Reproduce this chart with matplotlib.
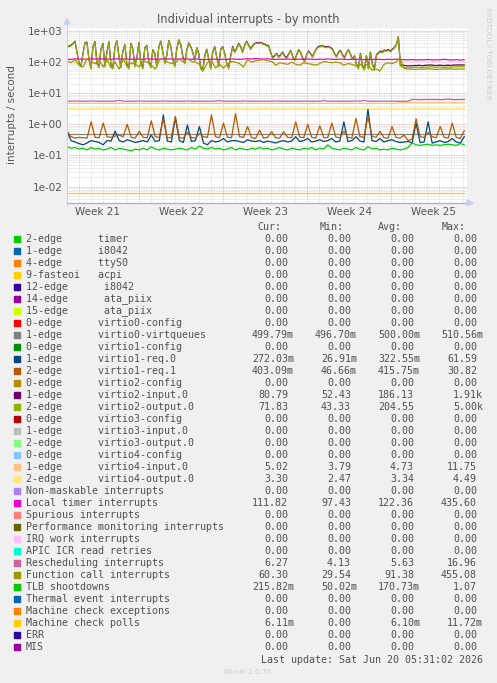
import numpy as np
import matplotlib
matplotlib.use('Agg')
import matplotlib.pyplot as plt
from matplotlib.patches import Rectangle, Polygon
from matplotlib.lines import Line2D

# ---- data (read off the munin "by month" graph) ----
# time axis in days from the left edge of the graph
t = np.linspace(0, 33.1, 100)    # ~8h samples
t2 = np.linspace(0, 33.1, 200)   # ~4h samples for the busy virtio2 queues

virtio2_input = [320, 330, 350, 400, 470, 210, 95, 75, 190, 420,
                 440, 125, 65, 310, 460, 95, 70, 260, 400, 75,
                 210, 450, 85, 65, 310, 480, 160, 70, 230, 365,
                 85, 65, 400, 260, 75, 140, 420, 95, 65, 290,
                 345, 105, 70, 250, 190, 75, 315, 470, 210, 95,
                 170, 500, 315, 125, 75, 270, 520, 365, 160, 95,
                 240, 420, 315, 210, 115, 290, 190, 65, 55, 160,
                 260, 125, 65, 210, 315, 150, 75, 260, 315, 190,
                 95, 65, 160, 320, 215, 280, 400, 320, 215, 350,
                 470, 350, 270, 340, 400, 420, 410, 430, 400, 380,
                 350, 340, 210, 140, 160, 190, 150, 170, 210, 160,
                 140, 180, 240, 160, 115, 170, 250, 210, 140, 105,
                 170, 230, 190, 150, 210, 275, 320, 330, 335, 320,
                 310, 315, 295, 265, 190, 150, 210, 240, 170, 140,
                 200, 250, 180, 125, 160, 85, 65, 190, 75, 60,
                 160, 65, 210, 85, 60, 170, 200, 225, 215, 245,
                 235, 255, 225, 265, 295, 370, 650, 82, 80, 78,
                 76, 75, 77, 76, 78, 77, 79, 78, 76, 78,
                 80, 79, 81, 80, 78, 77, 79, 80, 78, 77,
                 79, 80, 78, 79, 81, 80, 82, 81, 81, 81]
virtio2_output = [300, 310, 330, 380, 450, 200, 90, 70, 180, 400,
                  420, 120, 60, 300, 440, 90, 65, 250, 380, 70,
                  200, 430, 80, 60, 300, 460, 150, 65, 220, 350,
                  80, 60, 380, 250, 70, 130, 400, 90, 60, 280,
                  330, 100, 65, 240, 180, 70, 300, 450, 200, 90,
                  160, 480, 300, 120, 70, 260, 500, 350, 150, 90,
                  230, 400, 300, 200, 110, 280, 180, 60, 50, 150,
                  250, 120, 60, 200, 300, 140, 70, 250, 300, 180,
                  90, 60, 150, 300, 200, 260, 380, 300, 200, 330,
                  450, 330, 250, 320, 380, 400, 390, 410, 380, 360,
                  330, 320, 200, 130, 150, 180, 140, 160, 200, 150,
                  130, 170, 230, 150, 110, 160, 240, 200, 130, 100,
                  160, 220, 180, 140, 200, 260, 300, 310, 320, 300,
                  290, 300, 280, 250, 180, 140, 200, 230, 160, 130,
                  190, 240, 170, 120, 150, 80, 60, 180, 70, 55,
                  150, 60, 200, 80, 55, 160, 190, 210, 200, 230,
                  220, 240, 210, 250, 280, 350, 620, 75, 70, 68,
                  66, 65, 67, 66, 68, 67, 69, 68, 66, 68,
                  70, 69, 71, 70, 68, 67, 69, 70, 68, 67,
                  69, 70, 68, 69, 71, 70, 72, 71, 72, 72]
func_call = [110, 95, 120, 80, 70, 130, 100, 90, 115, 70,
             120, 65, 100, 60, 125, 70, 95, 85, 70, 110,
             100, 80, 60, 115, 130, 100, 90, 95, 125, 100,
             130, 105, 100, 85, 55, 95, 110, 65, 85, 65,
             85, 105, 100, 90, 70, 120, 100, 110, 115, 120,
             110, 105, 80, 95, 90, 85, 100, 85, 80, 95,
             90, 85, 80, 90, 105, 100, 95, 100, 95, 80,
             90, 85, 75, 85, 75, 85, 55, 60, 52, 85,
             95, 90, 100, 140, 62, 60, 59, 58, 60, 59,
             61, 60, 58, 59, 60, 61, 60, 59, 60, 60]
local_timer = [125, 122, 128, 124, 126, 123, 127, 125, 130, 124,
               126, 122, 128, 125, 124, 127, 123, 126, 125, 122,
               128, 124, 126, 123, 130, 125, 127, 124, 126, 128,
               125, 123, 126, 124, 120, 122, 125, 123, 121, 124,
               122, 126, 124, 123, 125, 128, 126, 130, 127, 125,
               128, 124, 122, 125, 123, 126, 124, 122, 125, 123,
               126, 124, 121, 125, 123, 126, 124, 122, 125, 123,
               121, 124, 122, 125, 120, 123, 121, 124, 122, 120,
               123, 121, 124, 122, 120, 118, 121, 117, 119, 118,
               122, 117, 119, 118, 124, 118, 117, 120, 116, 119]
resched = [5.5, 5.5, 5.6, 5.5, 5.5, 5.5, 5.6, 5.5, 5.5, 5.5,
           5.5, 5.5, 5.6, 5.9, 5.5, 5.5, 5.5, 5.5, 5.6, 5.5,
           5.5, 5.5, 5.5, 5.5, 5.6, 5.5, 5.5, 5.5, 5.5, 5.5,
           5.6, 5.5, 5.5, 5.5, 5.5, 5.5, 5.5, 5.6, 5.8, 5.5,
           5.5, 5.5, 5.5, 5.5, 5.6, 5.5, 5.5, 5.5, 5.5, 5.5,
           5.5, 5.5, 5.6, 5.5, 5.5, 5.5, 5.5, 5.5, 5.5, 5.6,
           5.5, 5.5, 5.5, 5.5, 5.8, 5.5, 5.5, 5.5, 5.5, 5.5,
           5.5, 5.5, 5.6, 5.5, 5.9, 5.5, 5.5, 5.5, 5.5, 5.5,
           5.5, 5.5, 5.5, 5.5, 5.5, 5.5, 6.3, 6.3, 6.2, 6.3,
           6.3, 6.3, 6.3, 6.2, 6.3, 6.5, 6.3, 6.2, 6.3, 6.3]
virtio4_input = [4.7] * 83 + [5.0] * 17
virtio4_output = [3.3] * 100
virtio0_vq = [0.5] * 100
virtio1_req0 = [0.60, 0.30, 0.27, 0.24, 0.22, 0.25, 0.30, 0.28, 0.26, 0.22,
                0.30, 0.29, 0.60, 0.30, 0.27, 0.32, 0.29, 0.26, 0.28, 0.30,
                0.27, 0.45, 0.28, 0.30, 2.00, 0.29, 0.27, 1.60, 0.30, 0.26,
                0.95, 0.28, 0.30, 0.85, 0.25, 0.22, 0.30, 0.27, 0.29, 0.35,
                0.27, 0.30, 0.30, 0.28, 0.26, 0.32, 0.29, 0.28, 0.30, 0.26,
                0.29, 0.27, 0.25, 0.28, 0.30, 0.27, 0.29, 0.40, 0.28, 0.30,
                0.35, 0.27, 0.29, 0.32, 0.28, 0.30, 0.35, 0.27, 0.29, 1.20,
                0.28, 0.30, 0.40, 0.29, 0.27, 3.10, 0.30, 0.28, 0.35, 0.27,
                0.30, 0.32, 0.28, 0.26, 0.27, 0.28, 0.25, 1.10, 0.26, 0.27,
                1.20, 0.25, 0.27, 0.30, 0.26, 0.28, 0.35, 0.27, 0.25, 0.40]
virtio1_req1 = [0.62, 0.40, 0.36, 0.38, 0.37, 0.36, 1.20, 0.38, 0.37, 1.10,
                0.40, 0.38, 0.42, 0.45, 0.40, 1.00, 0.38, 0.36, 0.60, 0.38,
                0.37, 1.30, 0.40, 0.38, 1.50, 0.36, 0.38, 1.80, 0.37, 0.36,
                0.55, 0.38, 0.36, 0.50, 0.40, 0.38, 2.00, 0.40, 0.37, 1.10,
                0.38, 0.37, 2.20, 0.40, 0.38, 0.85, 0.37, 0.35, 0.65, 0.36,
                0.38, 0.58, 0.37, 0.36, 0.58, 0.38, 0.37, 1.20, 0.39, 0.37,
                1.00, 0.38, 0.36, 0.90, 0.37, 0.38, 1.10, 0.39, 0.37, 0.60,
                0.38, 0.36, 1.55, 0.40, 0.38, 1.75, 0.42, 0.38, 0.60, 0.37,
                0.36, 0.85, 0.38, 0.36, 0.45, 0.30, 0.33, 1.50, 0.40, 0.38,
                0.55, 0.40, 0.37, 0.85, 0.38, 0.36, 1.10, 0.38, 0.35, 0.62]
tlb = [0.19, 0.17, 0.18, 0.16, 0.17, 0.15, 0.18, 0.16, 0.17, 0.15,
       0.16, 0.18, 0.15, 0.17, 0.16, 0.15, 0.14, 0.16, 0.15, 0.17,
       0.15, 0.19, 0.16, 0.15, 0.17, 0.16, 0.15, 0.16, 0.17, 0.16,
       0.15, 0.18, 0.16, 0.20, 0.17, 0.16, 0.18, 0.16, 0.17, 0.15,
       0.16, 0.18, 0.15, 0.17, 0.16, 0.15, 0.17, 0.16, 0.18, 0.16,
       0.17, 0.15, 0.16, 0.18, 0.16, 0.15, 0.17, 0.16, 0.15, 0.17,
       0.16, 0.18, 0.15, 0.17, 0.16, 0.22, 0.17, 0.16, 0.15, 0.17,
       0.16, 0.15, 0.18, 0.16, 0.15, 0.19, 0.16, 0.17, 0.15, 0.16,
       0.15, 0.17, 0.16, 0.15, 0.16, 0.18, 0.25, 0.22, 0.21, 0.22,
       0.23, 0.21, 0.22, 0.21, 0.22, 0.23, 0.22, 0.21, 0.24, 0.22]
mce_polls = [0.0061] * 100

# legend table
labels = ["2-edge      timer", "1-edge      i8042", "4-edge      ttyS0",
          "9-fasteoi   acpi", "12-edge      i8042", "14-edge      ata_piix",
          "15-edge      ata_piix", "0-edge      virtio0-config",
          "1-edge      virtio0-virtqueues", "0-edge      virtio1-config",
          "1-edge      virtio1-req.0", "2-edge      virtio1-req.1",
          "0-edge      virtio2-config", "1-edge      virtio2-input.0",
          "2-edge      virtio2-output.0", "0-edge      virtio3-config",
          "1-edge      virtio3-input.0", "2-edge      virtio3-output.0",
          "0-edge      virtio4-config", "1-edge      virtio4-input.0",
          "2-edge      virtio4-output.0", "Non-maskable interrupts",
          "Local timer interrupts", "Spurious interrupts",
          "Performance monitoring interrupts", "IRQ work interrupts",
          "APIC ICR read retries", "Rescheduling interrupts",
          "Function call interrupts", "TLB shootdowns",
          "Thermal event interrupts", "Machine check exceptions",
          "Machine check polls", "ERR", "MIS"]
colors = ["#00CC00", "#0066B3", "#FF8000", "#FFCC00", "#330099", "#990099",
          "#CCFF00", "#FF0000", "#808080", "#008F00", "#00487D", "#B35A00",
          "#B38F00", "#6B006B", "#8FB300", "#B30000", "#BEBEBE", "#80FF80",
          "#80C9FF", "#FFC080", "#FFE680", "#AA80FF", "#EE00CC", "#FF8080",
          "#666600", "#FFBFFF", "#00FFCC", "#CC6699", "#999900", "#00CC00",
          "#0066B3", "#FF8000", "#FFCC00", "#330099", "#990099"]
z = "0.00"
cur = [z]*8 + ["499.79m", z, "272.03m", "403.09m", z, "80.79", "71.83"] + [z]*4 + \
      ["5.02", "3.30", z, "111.82", z, z, z, z, "6.27", "60.30", "215.82m", z, z, "6.11m", z, z]
mn = [z]*8 + ["496.70m", z, "26.91m", "46.66m", z, "52.43", "43.33"] + [z]*4 + \
     ["3.79", "2.47", z, "97.43", z, z, z, z, "4.13", "29.54", "50.02m", z, z, z, z, z]
avg = [z]*8 + ["500.00m", z, "322.55m", "415.75m", z, "186.13", "204.55"] + [z]*4 + \
      ["4.73", "3.34", z, "122.36", z, z, z, z, "5.63", "91.38", "170.73m", z, z, "6.10m", z, z]
mx = [z]*8 + ["510.56m", z, "61.59", "30.82", z, "1.91k", "5.00k"] + [z]*4 + \
     ["11.75", "4.49", z, "435.60", z, z, z, z, "16.96", "455.08", "1.07", z, z, "11.72m", z, z]

# which legend row each plotted series belongs to (draw order = legend order)
series = [(8, t, virtio0_vq), (10, t, virtio1_req0), (11, t, virtio1_req1),
          (13, t2, virtio2_input), (14, t2, virtio2_output), (19, t, virtio4_input),
          (20, t, virtio4_output), (22, t, local_timer), (27, t, resched),
          (28, t, func_call), (29, t, tlb), (32, t, mce_polls)]

W, H = 497, 683
fig = plt.figure(figsize=(W / 100, H / 100), dpi=100, facecolor='#f0f0f0')


def fx(px):
    return px / W


def fy(py):
    return 1 - py / H


ax = fig.add_axes([fx(67), fy(203), 400 / W, 175 / H])
ax.set_facecolor('white')
ax.set_yscale('log')
ax.set_ylim(0.00295, 1250)
ax.set_xlim(0, 33.33)

# grid
dot = (0, (1, 1))
for d in range(-3, 4):
    for m in range(2, 10):
        ax.axhline(m * 10.0 ** d, color='#d6d6d6', lw=0.6, ls=dot, zorder=0)
    ax.axhline(10.0 ** d, color='#e6a0a0', lw=0.6, ls=dot, zorder=0)
weeks = [6, 13, 20, 27]
for day in range(1, 34):
    if day in weeks:
        ax.axvline(day, color='#e6a0a0', lw=0.6, ls=dot, zorder=0)
    else:
        ax.axvline(day, color='#d6d6d6', lw=0.6, ls=dot, zorder=0)

for idx, tt, vals in series:
    ax.plot(tt, vals, color=colors[idx], lw=0.9, zorder=2)

ax.set_yticks([1e3, 1e2, 1e1, 1e0, 1e-1, 1e-2])
ax.set_yticklabels(["1e+03", "1e+02", "1e+01", "1e+00", "1e-01", "1e-02"])
ax.minorticks_off()
ax.set_xticks([2.5, 9.5, 16.5, 23.5, 30.5])
ax.set_xticklabels(["Week 21", "Week 22", "Week 23", "Week 24", "Week 25"])
ax.tick_params(length=0, labelsize=7.5, labelcolor='#555555', pad=3)
for s in ['top', 'right', 'left']:
    ax.spines[s].set_visible(False)
ax.spines['bottom'].set_color('#c0a4e6')
ax.spines['bottom'].set_linewidth(1.0)

# axis lines with arrows
fig.add_artist(Line2D([fx(67), fx(67)], [fy(205), fy(24)], color='#c8d0f0', lw=0.8))
fig.add_artist(Polygon([[fx(64), fy(24)], [fx(70), fy(24)], [fx(67), fy(19)]],
                       closed=True, color='#c8d0f0', transform=fig.transFigure))
fig.add_artist(Polygon([[fx(467), fy(200)], [fx(467), fy(206)], [fx(473), fy(203)]],
                       closed=True, color='#c8d0f0', transform=fig.transFigure))

fig.text(fx(248), fy(19), "Individual interrupts - by month", ha='center', va='center',
         fontsize=8.3, color='#555555')
fig.text(fx(12), fy(115), "interrupts / second", rotation=90, ha='center', va='center',
         fontsize=7.5, color='#555555')
fig.text(fx(488), fy(53), "RRDTOOL / TOBI OETIKER", rotation=270, ha='center', va='center',
         fontsize=5.2, color='#cccccc')

mono = 'DejaVu Sans Mono'
tc = '#505050'
fs = 7.2
for name, left in [("Cur:", 257), ("Min:", 320), ("Avg:", 378), ("Max:", 442)]:
    fig.text(fx(left), fy(227), name, ha='left', va='center', family=mono, fontsize=fs, color=tc)

cols = [(cur, 294), (mn, 357), (avg, 420), (mx, 483)]
for k, lab in enumerate(labels):
    yc = 239 + 12 * k
    fig.add_artist(Rectangle((fx(14), fy(yc + 3)), 6 / W, 6 / H, color=colors[k],
                             transform=fig.transFigure))
    fig.text(fx(26), fy(yc), lab, ha='left', va='center', family=mono, fontsize=fs, color=tc)
    for arr, right in cols:
        v = arr[k]
        # values without a unit suffix leave one character free on the right
        xr = right if v[-1].isalpha() else right - 6
        fig.text(fx(xr), fy(yc), v, ha='right', va='center', family=mono,
                 fontsize=fs, color=tc)

fig.text(fx(483), fy(660), "Last update: Sat Jun 20 05:31:02 2026", ha='right', va='center',
         family=mono, fontsize=fs, color=tc)
fig.text(fx(248), fy(672), "Munin 2.0.76", ha='center', va='center', fontsize=5.2,
         color='#cccccc')

fig.savefig('out.png', dpi=100, facecolor=fig.get_facecolor())
